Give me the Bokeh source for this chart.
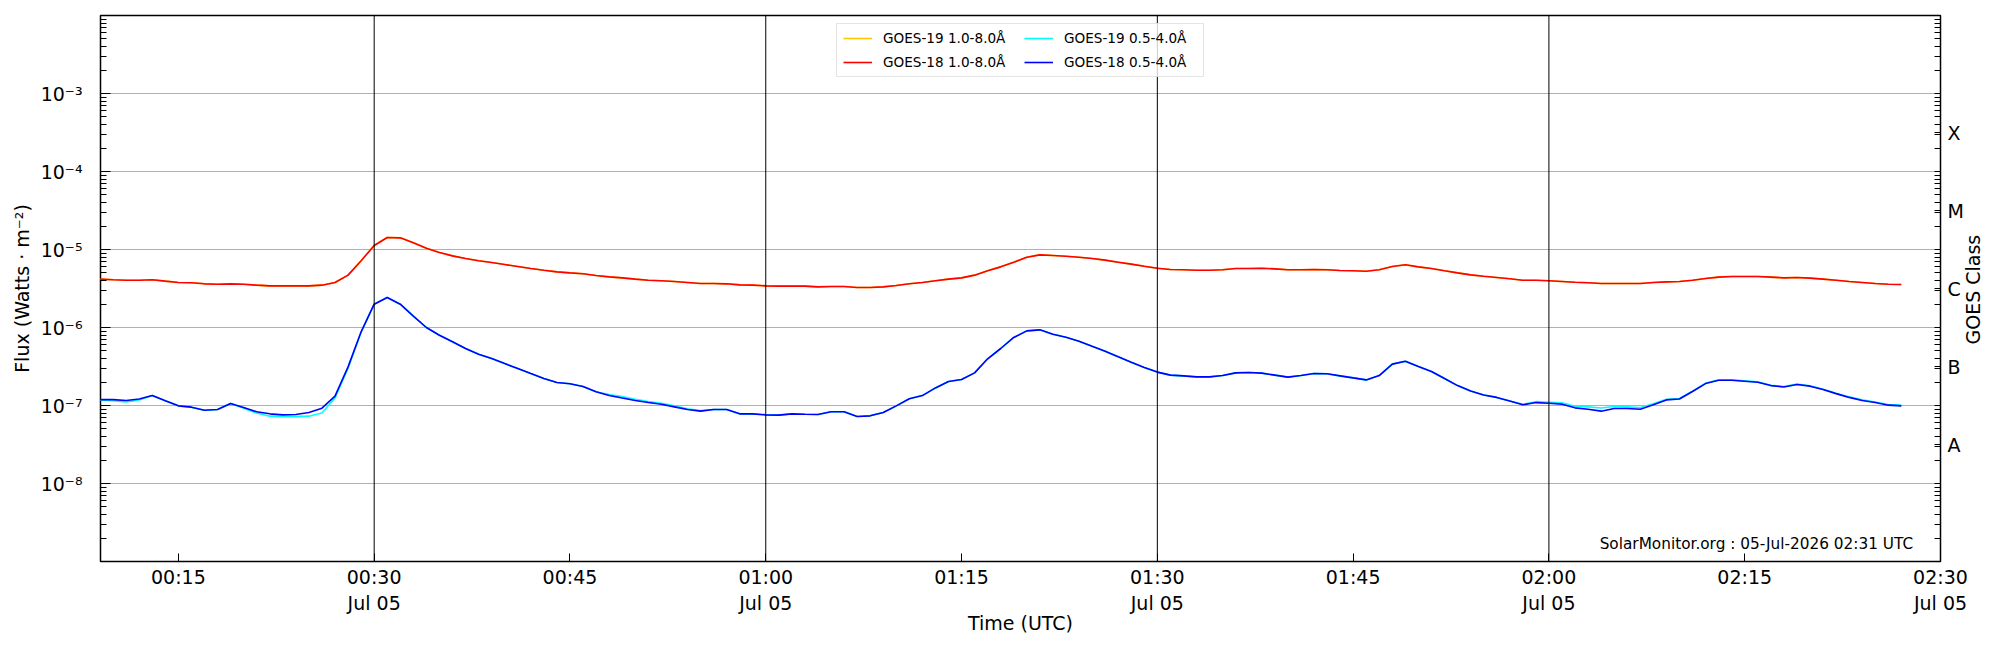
import math
import pandas as pd
from bokeh.plotting import figure
from bokeh.models import (FixedTicker, CustomJSTickFormatter, LogAxis, Span,
                          Legend, LegendItem, Label, ColumnDataSource)
from bokeh.embed import file_html
from bokeh.resources import INLINE

# ---------------- data (1-minute cadence) ----------------
start_time = "2026-07-05 00:09"
cadence = "1min"

goes18_long = [
    4.17e-6, 4.09e-6, 4.04e-6, 4.04e-6, 4.09e-6, 3.93e-6, 3.78e-6, 3.74e-6, 3.63e-6, 3.59e-6,
    3.63e-6, 3.59e-6, 3.49e-6, 3.42e-6, 3.42e-6, 3.42e-6, 3.42e-6, 3.49e-6, 3.78e-6, 4.69e-6,
    7.16e-6, 1.125e-5, 1.425e-5, 1.41e-5, 1.22e-5, 1.04e-5, 9.15e-6, 8.29e-6, 7.67e-6, 7.16e-6,
    6.81e-6, 6.42e-6, 6.05e-6, 5.71e-6, 5.43e-6, 5.17e-6, 5.02e-6, 4.88e-6, 4.64e-6, 4.46e-6,
    4.33e-6, 4.17e-6, 4.04e-6, 3.97e-6, 3.89e-6, 3.78e-6, 3.66e-6, 3.66e-6, 3.63e-6, 3.52e-6,
    3.49e-6, 3.42e-6, 3.39e-6, 3.39e-6, 3.39e-6, 3.32e-6, 3.35e-6, 3.35e-6, 3.26e-6, 3.26e-6,
    3.32e-6, 3.45e-6, 3.63e-6, 3.78e-6, 3.97e-6, 4.17e-6, 4.33e-6, 4.69e-6, 5.33e-6, 5.99e-6,
    6.88e-6, 7.97e-6, 8.54e-6, 8.38e-6, 8.21e-6, 7.97e-6, 7.67e-6, 7.30e-6, 6.88e-6, 6.49e-6,
    6.11e-6, 5.76e-6, 5.54e-6, 5.49e-6, 5.43e-6, 5.43e-6, 5.49e-6, 5.71e-6, 5.71e-6, 5.76e-6,
    5.65e-6, 5.49e-6, 5.49e-6, 5.54e-6, 5.49e-6, 5.38e-6, 5.33e-6, 5.27e-6, 5.49e-6, 6.05e-6,
    6.36e-6, 5.99e-6, 5.71e-6, 5.33e-6, 5.02e-6, 4.73e-6, 4.55e-6, 4.38e-6, 4.21e-6, 4.04e-6,
    4.04e-6, 3.97e-6, 3.89e-6, 3.81e-6, 3.74e-6, 3.66e-6, 3.66e-6, 3.66e-6, 3.66e-6, 3.78e-6,
    3.85e-6, 3.89e-6, 4.04e-6, 4.25e-6, 4.42e-6, 4.51e-6, 4.51e-6, 4.51e-6, 4.42e-6, 4.33e-6,
    4.38e-6, 4.29e-6, 4.17e-6, 4.04e-6, 3.89e-6, 3.78e-6, 3.66e-6, 3.59e-6, 3.56e-6,
]

goes19_long = [
    4.17e-6, 4.09e-6, 4.04e-6, 4.04e-6, 4.09e-6, 3.93e-6, 3.78e-6, 3.74e-6, 3.63e-6, 3.59e-6,
    3.63e-6, 3.59e-6, 3.49e-6, 3.42e-6, 3.42e-6, 3.42e-6, 3.42e-6, 3.49e-6, 3.78e-6, 4.69e-6,
    7.16e-6, 1.125e-5, 1.425e-5, 1.41e-5, 1.22e-5, 1.04e-5, 9.15e-6, 8.29e-6, 7.67e-6, 7.16e-6,
    6.81e-6, 6.42e-6, 6.05e-6, 5.71e-6, 5.43e-6, 5.17e-6, 5.02e-6, 4.88e-6, 4.64e-6, 4.46e-6,
    4.33e-6, 4.17e-6, 4.04e-6, 3.97e-6, 3.89e-6, 3.78e-6, 3.66e-6, 3.66e-6, 3.63e-6, 3.52e-6,
    3.49e-6, 3.42e-6, 3.39e-6, 3.39e-6, 3.39e-6, 3.32e-6, 3.35e-6, 3.35e-6, 3.26e-6, 3.26e-6,
    3.32e-6, 3.45e-6, 3.63e-6, 3.78e-6, 3.97e-6, 4.17e-6, 4.33e-6, 4.69e-6, 5.33e-6, 5.99e-6,
    6.88e-6, 7.97e-6, 8.54e-6, 8.38e-6, 8.21e-6, 7.97e-6, 7.67e-6, 7.30e-6, 6.88e-6, 6.49e-6,
    6.11e-6, 5.76e-6, 5.54e-6, 5.49e-6, 5.43e-6, 5.43e-6, 5.49e-6, 5.71e-6, 5.71e-6, 5.76e-6,
    5.65e-6, 5.49e-6, 5.49e-6, 5.54e-6, 5.49e-6, 5.38e-6, 5.33e-6, 5.27e-6, 5.49e-6, 6.05e-6,
    6.36e-6, 5.99e-6, 5.71e-6, 5.33e-6, 5.02e-6, 4.73e-6, 4.55e-6, 4.38e-6, 4.21e-6, 4.04e-6,
    4.04e-6, 3.97e-6, 3.89e-6, 3.81e-6, 3.74e-6, 3.66e-6, 3.66e-6, 3.66e-6, 3.66e-6, 3.78e-6,
    3.85e-6, 3.89e-6, 4.04e-6, 4.25e-6, 4.42e-6, 4.51e-6, 4.51e-6, 4.51e-6, 4.42e-6, 4.33e-6,
    4.38e-6, 4.29e-6, 4.17e-6, 4.04e-6, 3.89e-6, 3.78e-6, 3.66e-6, 3.59e-6, 3.56e-6,
]

goes18_short = [
    1.19e-7, 1.19e-7, 1.16e-7, 1.21e-7, 1.34e-7, 1.15e-7, 9.90e-8, 9.52e-8, 8.71e-8, 8.89e-8,
    1.06e-7, 9.43e-8, 8.30e-8, 7.82e-8, 7.59e-8, 7.67e-8, 8.14e-8, 9.24e-8, 1.32e-7, 3.13e-7,
    8.80e-7, 1.99e-6, 2.42e-6, 1.99e-6, 1.40e-6, 1.00e-6, 7.97e-7, 6.55e-7, 5.38e-7, 4.55e-7,
    4.00e-7, 3.45e-7, 2.98e-7, 2.57e-7, 2.22e-7, 1.97e-7, 1.90e-7, 1.75e-7, 1.50e-7, 1.34e-7,
    1.25e-7, 1.16e-7, 1.09e-7, 1.04e-7, 9.61e-8, 8.89e-8, 8.46e-8, 8.89e-8, 8.89e-8, 7.82e-8,
    7.82e-8, 7.59e-8, 7.52e-8, 7.82e-8, 7.74e-8, 7.67e-8, 8.30e-8, 8.30e-8, 7.23e-8, 7.37e-8,
    8.14e-8, 9.90e-8, 1.22e-7, 1.34e-7, 1.68e-7, 2.03e-7, 2.15e-7, 2.62e-7, 3.97e-7, 5.38e-7,
    7.45e-7, 9.06e-7, 9.33e-7, 8.21e-7, 7.52e-7, 6.68e-7, 5.76e-7, 4.97e-7, 4.21e-7, 3.59e-7,
    3.07e-7, 2.68e-7, 2.45e-7, 2.40e-7, 2.33e-7, 2.33e-7, 2.42e-7, 2.62e-7, 2.65e-7, 2.60e-7,
    2.45e-7, 2.31e-7, 2.42e-7, 2.57e-7, 2.55e-7, 2.40e-7, 2.26e-7, 2.13e-7, 2.42e-7, 3.39e-7,
    3.70e-7, 3.16e-7, 2.73e-7, 2.22e-7, 1.80e-7, 1.53e-7, 1.36e-7, 1.27e-7, 1.14e-7, 1.02e-7,
    1.09e-7, 1.07e-7, 1.04e-7, 9.33e-8, 8.97e-8, 8.46e-8, 9.15e-8, 9.15e-8, 8.97e-8, 1.02e-7,
    1.18e-7, 1.21e-7, 1.51e-7, 1.91e-7, 2.11e-7, 2.11e-7, 2.05e-7, 1.99e-7, 1.80e-7, 1.73e-7,
    1.86e-7, 1.77e-7, 1.60e-7, 1.42e-7, 1.27e-7, 1.16e-7, 1.09e-7, 1.01e-7, 9.90e-8,
]

goes19_short = [
    1.17e-7, 1.15e-7, 1.11e-7, 1.18e-7, 1.34e-7, 1.15e-7, 9.90e-8, 9.52e-8, 8.71e-8, 8.89e-8,
    1.06e-7, 9.20e-8, 8.00e-8, 7.30e-8, 7.20e-8, 7.20e-8, 7.30e-8, 8.00e-8, 1.25e-7, 3.00e-7,
    8.70e-7, 1.99e-6, 2.42e-6, 1.99e-6, 1.40e-6, 1.00e-6, 7.97e-7, 6.55e-7, 5.38e-7, 4.55e-7,
    4.00e-7, 3.45e-7, 2.98e-7, 2.57e-7, 2.22e-7, 1.97e-7, 1.90e-7, 1.75e-7, 1.50e-7, 1.38e-7,
    1.30e-7, 1.20e-7, 1.12e-7, 1.07e-7, 9.90e-8, 9.10e-8, 8.60e-8, 8.89e-8, 8.89e-8, 7.82e-8,
    7.82e-8, 7.59e-8, 7.52e-8, 7.82e-8, 7.74e-8, 7.67e-8, 8.30e-8, 8.30e-8, 7.23e-8, 7.37e-8,
    8.14e-8, 9.90e-8, 1.22e-7, 1.34e-7, 1.68e-7, 2.03e-7, 2.15e-7, 2.62e-7, 3.97e-7, 5.38e-7,
    7.45e-7, 9.06e-7, 9.33e-7, 8.21e-7, 7.52e-7, 6.68e-7, 5.76e-7, 4.97e-7, 4.21e-7, 3.59e-7,
    3.07e-7, 2.68e-7, 2.45e-7, 2.40e-7, 2.33e-7, 2.33e-7, 2.42e-7, 2.62e-7, 2.65e-7, 2.60e-7,
    2.45e-7, 2.31e-7, 2.42e-7, 2.57e-7, 2.55e-7, 2.40e-7, 2.26e-7, 2.13e-7, 2.42e-7, 3.39e-7,
    3.70e-7, 3.16e-7, 2.73e-7, 2.22e-7, 1.80e-7, 1.53e-7, 1.36e-7, 1.27e-7, 1.14e-7, 1.04e-7,
    1.12e-7, 1.10e-7, 1.08e-7, 9.80e-8, 9.60e-8, 9.30e-8, 9.70e-8, 9.60e-8, 9.40e-8, 1.05e-7,
    1.20e-7, 1.23e-7, 1.53e-7, 1.93e-7, 2.13e-7, 2.13e-7, 2.07e-7, 2.01e-7, 1.82e-7, 1.75e-7,
    1.88e-7, 1.79e-7, 1.62e-7, 1.44e-7, 1.29e-7, 1.18e-7, 1.11e-7, 1.03e-7, 1.01e-7,
]

series_labels = ["GOES-19 1.0-8.0Å", "GOES-18 1.0-8.0Å",
                 "GOES-19 0.5-4.0Å", "GOES-18 0.5-4.0Å"]
series_colors = ["#ffc800", "#ff0000", "#00ffff", "#0000ff"]

x_start = "2026-07-05 00:09:02"
x_end = "2026-07-05 02:30"
x_tick_times = ["2026-07-05 00:15", "2026-07-05 00:30", "2026-07-05 00:45",
                "2026-07-05 01:00", "2026-07-05 01:15", "2026-07-05 01:30",
                "2026-07-05 01:45", "2026-07-05 02:00", "2026-07-05 02:15",
                "2026-07-05 02:30"]
vline_times = ["2026-07-05 00:30", "2026-07-05 01:00",
               "2026-07-05 01:30", "2026-07-05 02:00"]
flux_decades = [1e-9, 1e-8, 1e-7, 1e-6, 1e-5, 1e-4, 1e-3, 1e-2]
flux_labelled = [1e-8, 1e-7, 1e-6, 1e-5, 1e-4, 1e-3]
class_labels = ["A", "B", "C", "M", "X"]
class_exponents = [-7.5, -6.5, -5.5, -4.5, -3.5]
class_title = "GOES Class"
class_title_anchor = 10 ** -6.218   # the rotated title starts here and runs upward
watermark = "SolarMonitor.org : 05-Jul-2026 02:31 UTC"
watermark_time = "2026-07-05 02:27:54"
watermark_flux = 1.7e-9

FONT = "DejaVu Sans"
TICK_PX = "19px"

# ---------------- build ----------------
times = pd.date_range(start_time, periods=len(goes18_long), freq=cadence)
src = ColumnDataSource(dict(t=times, g19l=goes19_long, g18l=goes18_long,
                            g19s=goes19_short, g18s=goes18_short))

def ms(s):
    return pd.Timestamp(s).value // 10**6

p = figure(width=1998, height=645, x_axis_type="datetime", y_axis_type="log",
           x_range=(pd.Timestamp(x_start), pd.Timestamp(x_end)),
           y_range=(1e-9, 1e-2),
           output_backend="svg", toolbar_location=None,
           min_border_left=100, min_border_right=58,
           min_border_top=15, min_border_bottom=84)
p.background_fill_color = "white"
p.border_fill_color = "white"
p.outline_line_color = "black"
p.outline_line_width = 1.5

minor_flux = [k * d for d in flux_decades[:-1] for k in range(2, 10)]

# left axis
ya = p.yaxis[0]
ya.ticker = FixedTicker(ticks=flux_labelled, minor_ticks=minor_flux)
ya.formatter = CustomJSTickFormatter(code="""
const e = Math.round(Math.log10(tick));
const sup = {"-":"\u207b","0":"\u2070","1":"\u00b9","2":"\u00b2","3":"\u00b3","4":"\u2074","5":"\u2075","6":"\u2076","7":"\u2077","8":"\u2078","9":"\u2079"};
return "10" + String(e).split("").map(c => sup[c]).join("");
""")
ya.axis_label = "Flux (Watts \u00b7 m\u207b\u00b2)"

# right axis (GOES class letters at half decades)
class_ticks = [10 ** e for e in class_exponents]
ra = LogAxis(ticker=FixedTicker(ticks=sorted(flux_labelled + class_ticks), minor_ticks=minor_flux),
             formatter=CustomJSTickFormatter(args=dict(lbls=class_labels, cticks=class_ticks), code="""
for (let i = 0; i < cticks.length; i++) {
  if (Math.abs(Math.log10(tick) - Math.log10(cticks[i])) < 0.01) return lbls[i];
}
return "";
"""))
p.add_layout(ra, "right")

# second right axis: a single rotated tick label acting as the "GOES Class" title
ra2 = LogAxis(ticker=FixedTicker(ticks=[class_title_anchor], minor_ticks=[]),
              formatter=CustomJSTickFormatter(args=dict(title=class_title),
                                              code="return title;"))
p.add_layout(ra2, "right")

# bottom axis
xa = p.xaxis[0]
xa.ticker = FixedTicker(ticks=[ms(t) for t in x_tick_times], minor_ticks=[])
xa.formatter = CustomJSTickFormatter(code=r"""
const d = new Date(tick);
const months = ["Jan","Feb","Mar","Apr","May","Jun","Jul","Aug","Sep","Oct","Nov","Dec"];
const p2 = (n) => String(n).padStart(2, "0");
let s = p2(d.getUTCHours()) + ":" + p2(d.getUTCMinutes());
if (d.getUTCMinutes() % 30 === 0) { s += "\n" + months[d.getUTCMonth()] + " " + p2(d.getUTCDate()); }
return s;
""")
xa.axis_label = "Time (UTC)"

for ax in (xa, ya, ra, ra2):
    ax.axis_line_color = None
    ax.major_tick_in = 10
    ax.major_tick_out = 0
    ax.minor_tick_in = 6
    ax.minor_tick_out = 0
    ax.major_tick_line_color = "black"
    ax.minor_tick_line_color = "black"
    ax.major_label_text_font = FONT
    ax.major_label_text_font_size = TICK_PX
    ax.major_label_text_color = "black"
    ax.axis_label_text_font = FONT
    ax.axis_label_text_font_size = TICK_PX
    ax.axis_label_text_font_style = "normal"
    ax.axis_label_text_color = "black"
xa.major_tick_in = 8
xa.major_label_standoff = 4
xa.axis_label_standoff = -5
ya.major_label_standoff = 18
ya.axis_label_standoff = 5
ra.major_tick_in = 6
ra.major_label_standoff = 7
ra2.major_tick_in = 0
ra2.minor_tick_in = 0
ra2.major_tick_line_color = None
ra2.minor_tick_line_color = None
ra2.major_label_standoff = 7
ra2.major_label_orientation = math.pi / 2

# grid
p.xgrid.visible = False
p.ygrid.ticker = FixedTicker(ticks=flux_labelled)
p.ygrid.grid_line_color = "#b0b0b0"
p.ygrid.grid_line_width = 1

for t in vline_times:
    p.add_layout(Span(location=ms(t), dimension="height",
                      line_color="black", line_width=1))

r1 = p.line("t", "g19l", source=src, line_color=series_colors[0], line_width=1.6)
r2 = p.line("t", "g18l", source=src, line_color=series_colors[1], line_width=1.6)
r3 = p.line("t", "g19s", source=src, line_color=series_colors[2], line_width=1.6)
r4 = p.line("t", "g18s", source=src, line_color=series_colors[3], line_width=1.6)

legend = Legend(items=[LegendItem(label=series_labels[0], renderers=[r1]),
                       LegendItem(label=series_labels[1], renderers=[r2]),
                       LegendItem(label=series_labels[2], renderers=[r3]),
                       LegendItem(label=series_labels[3], renderers=[r4])],
                location="top_center", ncols=2,
                label_text_font=FONT, label_text_font_size="13.6px",
                label_text_color="black",
                glyph_width=29, glyph_height=16, label_height=16,
                label_width=133, label_standoff=11, spacing=8,
                padding=6, margin=8,
                border_line_color="#cccccc", border_line_width=1,
                background_fill_color="white", background_fill_alpha=0.8)
p.add_layout(legend, "center")

p.add_layout(Label(x=pd.Timestamp(watermark_time), y=watermark_flux, text=watermark,
                   text_align="right", text_baseline="middle",
                   text_font=FONT, text_font_size="15.3px", text_color="black"))

open("out.html", "w", encoding="utf-8").write(file_html(p, INLINE))
